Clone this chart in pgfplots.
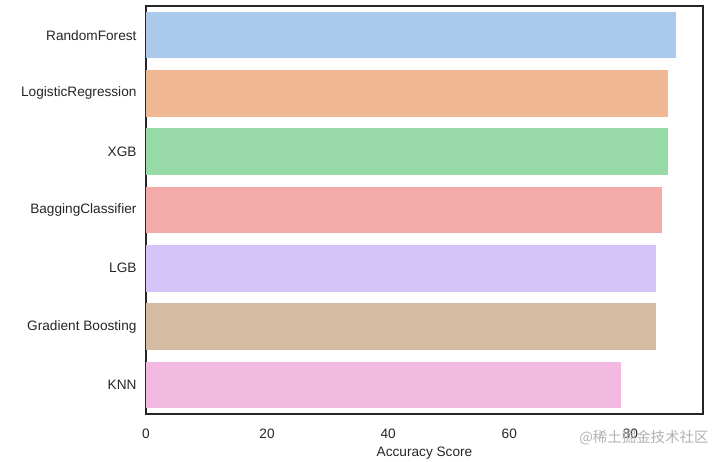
\documentclass[border=0pt]{standalone}
\usepackage{pgfplots}
\pgfplotsset{compat=1.18}
\usepackage{fontspec}
\setmainfont{Liberation Sans}
\newfontfamily\cjk{Noto Sans CJK SC}
\definecolor{c0}{RGB}{171,201,234}
\definecolor{c1}{RGB}{239,183,146}
\definecolor{c2}{RGB}{152,218,167}
\definecolor{c3}{RGB}{242,171,168}
\definecolor{c4}{RGB}{212,196,247}
\definecolor{c5}{RGB}{214,187,163}
\definecolor{c6}{RGB}{241,185,224}
\definecolor{axc}{RGB}{38,38,38}
\begin{document}
\begin{tikzpicture}
\begin{axis}[
  name=ax, at={(0,0)}, anchor=south west,
  scale only axis, width=557bp, height=408bp,
  xbar, bar width=0.8,
  xmin=0, xmax=92, ymin=-0.5, ymax=6.5, y dir=reverse,
  xtick={0,20,40,60,80},
  ytick={0,1,2,3,4,5,6},
  yticklabels={RandomForest,LogisticRegression,XGB,BaggingClassifier,LGB,Gradient Boosting,KNN},
  major tick length=0pt,
  axis line style={draw=axc, line width=1.25bp},
  tick label style={font=\fontsize{13.7}{15}\selectfont, text=axc},
  /pgf/number format/assume math mode=true,
  xticklabel style={yshift=-11bp},
  yticklabel style={xshift=-6bp},
  xlabel={Accuracy Score},
  xlabel style={font=\fontsize{13.7}{15}\selectfont, text=axc, yshift=-2bp},
  clip=false,
]
\addplot[fill=c0, draw=none, bar shift=0pt] coordinates {(87.6,0)};
\addplot[fill=c1, draw=none, bar shift=0pt] coordinates {(86.3,1)};
\addplot[fill=c2, draw=none, bar shift=0pt] coordinates {(86.3,2)};
\addplot[fill=c3, draw=none, bar shift=0pt] coordinates {(85.3,3)};
\addplot[fill=c4, draw=none, bar shift=0pt] coordinates {(84.2,4)};
\addplot[fill=c5, draw=none, bar shift=0pt] coordinates {(84.2,5)};
\addplot[fill=c6, draw=none, bar shift=0pt] coordinates {(78.5,6)};
\end{axis}
\node[anchor=east, text=black!30, font=\cjk\fontsize{14.5}{16}\selectfont] at (566bp,-24bp) {@稀土掘金技术社区};
\pgfresetboundingbox
\path[use as bounding box] (-146bp,-48bp) rectangle (580bp,414bp);
\end{tikzpicture}
\end{document}
